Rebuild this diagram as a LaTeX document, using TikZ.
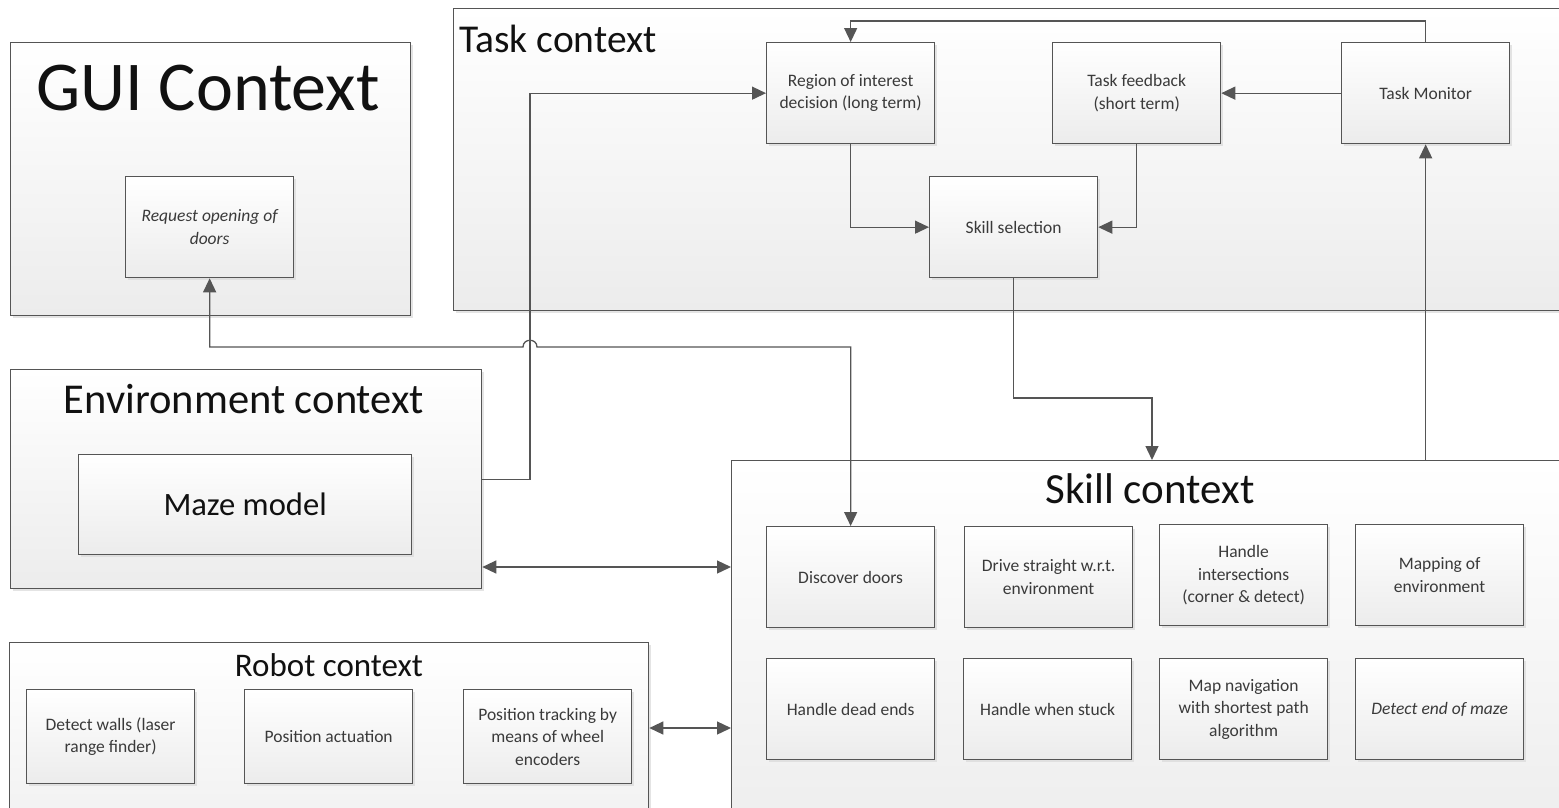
\documentclass[tikz,border=0pt]{standalone}
\usepackage{fontspec}
\setmainfont{Carlito}
\usetikzlibrary{arrows.meta,shadows}
\definecolor{linec}{HTML}{555555}
\definecolor{txtc}{HTML}{3A3A3A}
\definecolor{titc}{HTML}{111111}
\definecolor{botc}{HTML}{ECECEC}
\begin{document}
\begin{tikzpicture}[x=1pt,y=-1pt,
  shadowed/.style={drop shadow={shadow xshift=2.5pt,shadow yshift=-2.5pt,fill=black!15,opacity=0.7}},
  ctx/.style={draw=linec,line width=1.3pt,top color=white,bottom color=botc,shadowed,inner sep=0pt,anchor=north west},
  sbox/.style={ctx,minimum width=168,minimum height=101,font=\fontsize{17.5}{22.5}\selectfont,text=txtc,align=center},
  rbox/.style={sbox,minimum height=94},
  ttl/.style={inner sep=0pt,text=titc,anchor=base},
  arr/.style={draw=linec,line width=1.3pt,-{Triangle[length=14pt,width=13pt]}},
  darr/.style={draw=linec,line width=1.3pt,{Triangle[length=14pt,width=13pt]}-{Triangle[length=14pt,width=13pt]}}]
\useasboundingbox (0,0) rectangle (1559,807);
\clip (0,0) rectangle (1559,807);
\fill[white] (0,0) rectangle (1559,807);
% containers
\node[ctx,minimum width=400,minimum height=273] (gui) at (10,42) {};
\node[ctx,minimum width=1150,minimum height=302] (task) at (453,8) {};
\node[ctx,minimum width=471,minimum height=219] (env) at (10,369) {};
\node[ctx,minimum width=639,minimum height=250] (robot) at (9,642) {};
\node[ctx,minimum width=900,minimum height=400] (skill) at (731,460) {};
% titles
\node[ttl,font=\fontsize{70}{80}\selectfont] (guit) at (208,110) {GUI Context};
\node[ttl,anchor=base west,font=\fontsize{39.5}{45}\selectfont] (taskt) at (459,52) {Task context};
\node[ttl,font=\fontsize{42.5}{48}\selectfont] (envt) at (244,413) {Environment context};
\node[ttl,font=\fontsize{43}{49}\selectfont] (skillt) at (1150,503) {Skill context};
\node[ttl,font=\fontsize{33}{40}\selectfont] (robt) at (329,676) {Robot context};
% inner boxes
\node[sbox,font=\fontsize{17.5}{22.5}\selectfont\itshape] (req) at (125,176) {Request opening of\\doors};
\node[sbox] (roi) at (766,42) {Region of interest\\decision (long term)};
\node[sbox] (tfb) at (1052,42) {Task feedback\\(short term)};
\node[sbox] (tmon) at (1341,42) {Task Monitor};
\node[sbox] (ssel) at (929,176) {Skill selection};
\node[ctx,minimum width=333,minimum height=100,font=\fontsize{32.6}{38}\selectfont,text=titc] (maze) at (78,454) {Maze model};
\node[sbox] (dd) at (766,526) {Discover doors};
\node[sbox] (ds) at (964,526) {Drive straight w.r.t.\\environment};
\node[sbox] (hi) at (1159,524) {Handle\\intersections\\(corner \& detect)};
\node[sbox] (me) at (1355,524) {Mapping of\\environment};
\node[sbox] (hde) at (766,658) {Handle dead ends};
\node[sbox] (hws) at (963,658) {Handle when stuck};
\node[sbox] (mn) at (1159,658) {Map navigation\\with shortest path\\algorithm};
\node[sbox,font=\fontsize{17.5}{22.5}\selectfont\itshape] (dem) at (1355,658) {Detect end of maze};
\node[rbox] (dw) at (26,689) {Detect walls (laser\\range finder)};
\node[rbox] (pa) at (244,689) {Position actuation};
\node[rbox] (pt) at (463,689) {Position tracking by\\means of wheel\\encoders};
% connectors
\draw[arr] (tmon.north) -- (tmon.north |- 0,21) -| (roi.north);
\draw[arr] (tmon.west) -- (tfb.east);
\draw[arr] (tfb.south) |- (ssel.east);
\draw[arr] (roi.south) |- (ssel.west);
\draw[arr] (ssel.south) |- (1152,398) -- (skill.north -| 1152,0);
\draw[arr] (skill.north -| tmon.south) -- (tmon.south);
\draw[arr] (env.east) -- (env.east -| 530,0) |- (roi.west);
\draw[darr] (req.south) -- (req.south |- 0,347) -- (523,347) .. controls (523,338) and (537,338) .. (537,347) -- (dd.north |- 0,347) -- (dd.north);
\draw[darr] (env.east |- 0,567) -- (skill.west |- 0,567);
\draw[darr] (robot.east |- 0,728) -- (skill.west |- 0,728);
\end{tikzpicture}
\end{document}
